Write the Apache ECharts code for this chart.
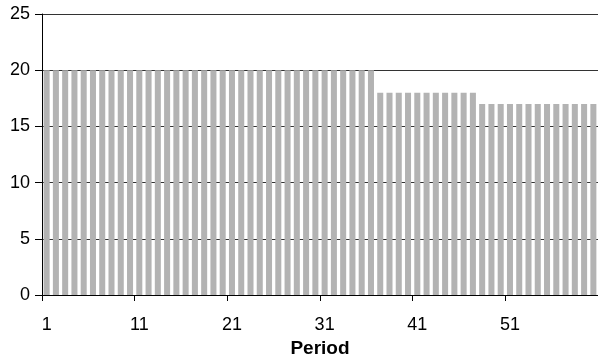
<!DOCTYPE html>
<html>
<head>
<meta charset="utf-8">
<script src="https://cdn.jsdelivr.net/npm/echarts@6/dist/echarts.min.js"></script>
<style>
  html, body { margin: 0; padding: 0; background: #fff; }
  #chart { width: 598px; height: 364px; }
</style>
</head>
<body>
<div id="chart"></div>
<script>
// Period numbers along the horizontal axis
const periods = [
  '1','2','3','4','5','6','7','8','9','10',
  '11','12','13','14','15','16','17','18','19','20',
  '21','22','23','24','25','26','27','28','29','30',
  '31','32','33','34','35','36','37','38','39','40',
  '41','42','43','44','45','46','47','48','49','50',
  '51','52','53','54','55','56','57','58','59','60'
];

// Value for each period
const values = [
  20,20,20,20,20,20,20,20,20,20,
  20,20,20,20,20,20,20,20,20,20,
  20,20,20,20,20,20,20,20,20,20,
  20,20,20,20,20,20,18,18,18,18,
  18,18,18,18,18,18,18,17,17,17,
  17,17,17,17,17,17,17,17,17,17
];

// Vertical axis range
const yMin = 0;
const yMax = 25;
const yStep = 5;

const chart = echarts.init(document.getElementById('chart'), null, { renderer: 'canvas' });

const font = 'Liberation Sans, Arial, Helvetica, sans-serif';

chart.setOption({
  animation: false,
  backgroundColor: '#ffffff',
  grid: { left: 42, right: 0, top: 14, bottom: 69, containLabel: false },
  xAxis: {
    type: 'category',
    data: periods,
    boundaryGap: true,
    name: 'Period',
    nameLocation: 'middle',
    nameGap: 44,
    nameTextStyle: { color: '#000', fontFamily: font, fontSize: 19, fontWeight: 'bold' },
    axisLine: { show: true, lineStyle: { color: '#000', width: 1 } },
    axisTick: { show: true, interval: 9, length: 6, inside: false, lineStyle: { color: '#000' } },
    axisLabel: { interval: 9, margin: 21, color: '#000', fontFamily: font, fontSize: 18 },
    splitLine: { show: false }
  },
  yAxis: {
    type: 'value',
    min: yMin,
    max: yMax,
    interval: yStep,
    axisLine: { show: true, lineStyle: { color: '#000', width: 1 } },
    axisTick: { show: true, length: 7, inside: false, lineStyle: { color: '#000' } },
    axisLabel: { margin: 12, color: '#000', fontFamily: font, fontSize: 18 },
    splitLine: { show: true, lineStyle: { color: '#333', width: 1 } }
  },
  series: [{
    type: 'bar',
    data: values,
    barCategoryGap: '35%',
    itemStyle: { color: '#b3b3b3' }
  }]
});
</script>
</body>
</html>
